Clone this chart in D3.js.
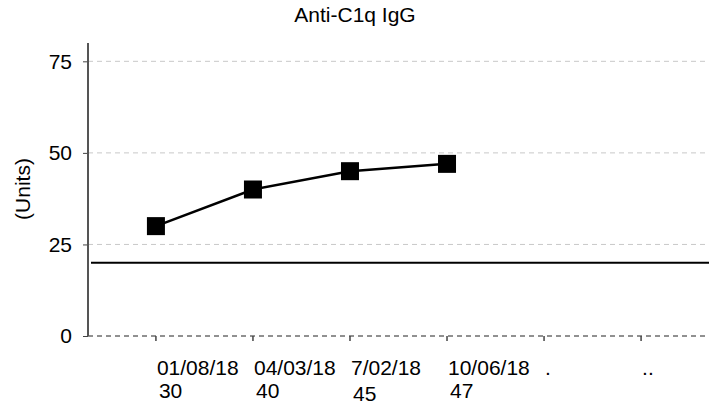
<!DOCTYPE html>
<html>
<head>
<meta charset="utf-8">
<script src="https://cdn.jsdelivr.net/npm/d3@7"></script>
<style>
  body { margin: 0; background: #fff; }
  text { font-family: "Liberation Sans", Arial, sans-serif; }
</style>
</head>
<body>
<div id="chart"></div>
<script>
// Data
let dates = ["01/08/18", "04/03/18", "7/02/18", "10/06/18", ".", ".."];
let values = [30, 40, 45, 47];
let yTicks = [0, 25, 50, 75];
let refLevel = 20;

let width = 719;
let height = 404;
let padLeft = 88, padRight = 709, padTop = 43, padBottom = 336;
let fs = 21;

let svg = d3.select("#chart")
    .append("svg")
    .attr("width", width)
    .attr("height", height);

let xScale = d3.scalePoint()
    .domain(d3.range(dates.length))
    .range([padLeft, padRight])
    .padding(0.7);

let yScale = d3.scaleLinear()
    .domain([0, 80])
    .range([padBottom, padTop]);

// title
svg.append("text")
    .attr("x", 355)
    .attr("y", 22)
    .attr("text-anchor", "middle")
    .attr("font-size", fs)
    .text("Anti-C1q IgG");

// y label
svg.append("text")
    .attr("transform", "translate(23,189)rotate(-90)")
    .attr("text-anchor", "middle")
    .attr("dy", "0.35em")
    .attr("font-size", fs)
    .text("(Units)");

// gridlines
svg.append("g")
    .selectAll("line")
    .data(yTicks.filter(d => d > 0))
    .enter()
    .append("line")
    .attr("x1", padLeft)
    .attr("x2", padRight)
    .attr("y1", d => yScale(d))
    .attr("y2", d => yScale(d))
    .attr("stroke", "#c8c8c8")
    .attr("stroke-width", 1)
    .attr("stroke-dasharray", "5,4");

// zero line (dashed black)
svg.append("line")
    .attr("x1", padLeft)
    .attr("x2", padRight)
    .attr("y1", yScale(0))
    .attr("y2", yScale(0))
    .attr("stroke", "#222")
    .attr("stroke-width", 1)
    .attr("stroke-dasharray", "5,4");

// y axis
let yAxis = d3.axisLeft(yScale)
    .tickValues(yTicks)
    .tickSize(5)
    .tickPadding(11);
let yg = svg.append("g")
    .attr("transform", "translate(" + padLeft + ",0)")
    .call(yAxis);
yg.select(".domain").remove();
yg.selectAll(".tick line").attr("stroke", "#444");
yg.selectAll(".tick text")
    .attr("font-size", fs)
    .attr("fill", "#000")
    .style("font-family", "Liberation Sans, Arial, sans-serif");
svg.append("line")
    .attr("x1", padLeft)
    .attr("x2", padLeft)
    .attr("y1", padTop)
    .attr("y2", padBottom)
    .attr("stroke", "#555")
    .attr("stroke-width", 2);

// x ticks
let xg = svg.append("g");
xg.selectAll("line")
    .data(d3.range(dates.length))
    .enter()
    .append("line")
    .attr("x1", d => xScale(d))
    .attr("x2", d => xScale(d))
    .attr("y1", padBottom)
    .attr("y2", padBottom + 5)
    .attr("stroke", "#444")
    .attr("stroke-width", 1.5);

xg.selectAll("text.date")
    .data(dates)
    .enter()
    .append("text")
    .attr("class", "date")
    .attr("x", (d, i) => xScale(i) + 1)
    .attr("y", 375)
    .attr("font-size", fs)
    .text(d => d);

xg.selectAll("text.val")
    .data(values)
    .enter()
    .append("text")
    .attr("class", "val")
    .attr("x", (d, i) => xScale(i) + 3)
    .attr("y", (d, i) => i === 2 ? 401 : 398)
    .attr("font-size", fs)
    .text(d => d);

// reference line
svg.append("line")
    .attr("x1", padLeft + 3)
    .attr("x2", padRight)
    .attr("y1", yScale(refLevel))
    .attr("y2", yScale(refLevel))
    .attr("stroke", "#000")
    .attr("stroke-width", 2);

// series line
let line = d3.line()
    .x((d, i) => xScale(i))
    .y(d => yScale(d));

svg.append("path")
    .datum(values)
    .attr("d", line)
    .attr("fill", "none")
    .attr("stroke", "#000")
    .attr("stroke-width", 2.5);

let sz = 18;
svg.selectAll("rect.pt")
    .data(values)
    .enter()
    .append("rect")
    .attr("class", "pt")
    .attr("x", (d, i) => xScale(i) - sz / 2)
    .attr("y", d => yScale(d) - sz / 2)
    .attr("width", sz)
    .attr("height", sz)
    .attr("fill", "#000");
</script>
</body>
</html>
